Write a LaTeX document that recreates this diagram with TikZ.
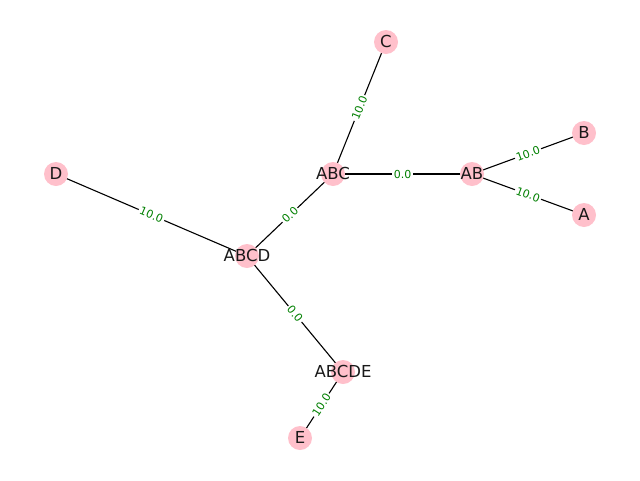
\documentclass[tikz,border=0pt]{standalone}
\usepackage{fontspec}
\setmainfont{DejaVu Sans}
\usetikzlibrary{backgrounds}
\definecolor{nodepink}{RGB}{255,192,203}
\definecolor{labelgreen}{RGB}{0,128,0}
\tikzset{
  vertex/.style={circle, fill=nodepink, draw=none, minimum size=24pt, inner sep=0pt},
  vlabel/.style={inner sep=0pt, font=\fontsize{16.5}{18}\selectfont, text=black!90},
  link/.style={draw=black, line width=1.1pt},
  wlabel/.style={midway, sloped, fill=white, inner sep=1.5pt, text=labelgreen,
    font=\fontsize{11}{13}\selectfont}
}
\begin{document}
\begin{tikzpicture}[x=1pt, y=-1pt]
  \useasboundingbox (0,0) rectangle (640,480);
  % tree vertices
  \node[vertex] (C) at (386,42) {};
  \node[vertex] (B) at (584,133) {};
  \node[vertex] (A) at (584,215) {};
  \node[vertex] (AB) at (472,174) {};
  \node[vertex] (ABC) at (333,174) {};
  \node[vertex] (D) at (56,174) {};
  \node[vertex] (ABCD) at (247,256) {};
  \node[vertex] (ABCDE) at (343,372) {};
  \node[vertex] (E) at (300,438) {};
  % vertex names
  \foreach \n in {A,B,C,D,E,AB,ABC,ABCD,ABCDE}
    \node[vlabel] at ([yshift=1pt]\n) {\n};
  % weighted edges, behind the vertices
  \begin{scope}[on background layer]
    \draw[link] (ABC.center) -- node[wlabel] {10.0} (C.center);
    \draw[link] (AB.center) -- node[wlabel] {10.0} (B.center);
    \draw[link] (AB.center) -- node[wlabel] {10.0} (A.center);
    \draw[link] (ABC.center) -- node[wlabel] {0.0} (AB.center);
    \draw[link] (ABCD.center) -- node[wlabel] {0.0} (ABC.center);
    \draw[link] (D.center) -- node[wlabel] {10.0} (ABCD.center);
    \draw[link] (ABCD.center) -- node[wlabel] {0.0} (ABCDE.center);
    \draw[link] (E.center) -- node[wlabel] {10.0} (ABCDE.center);
  \end{scope}
\end{tikzpicture}
\end{document}
